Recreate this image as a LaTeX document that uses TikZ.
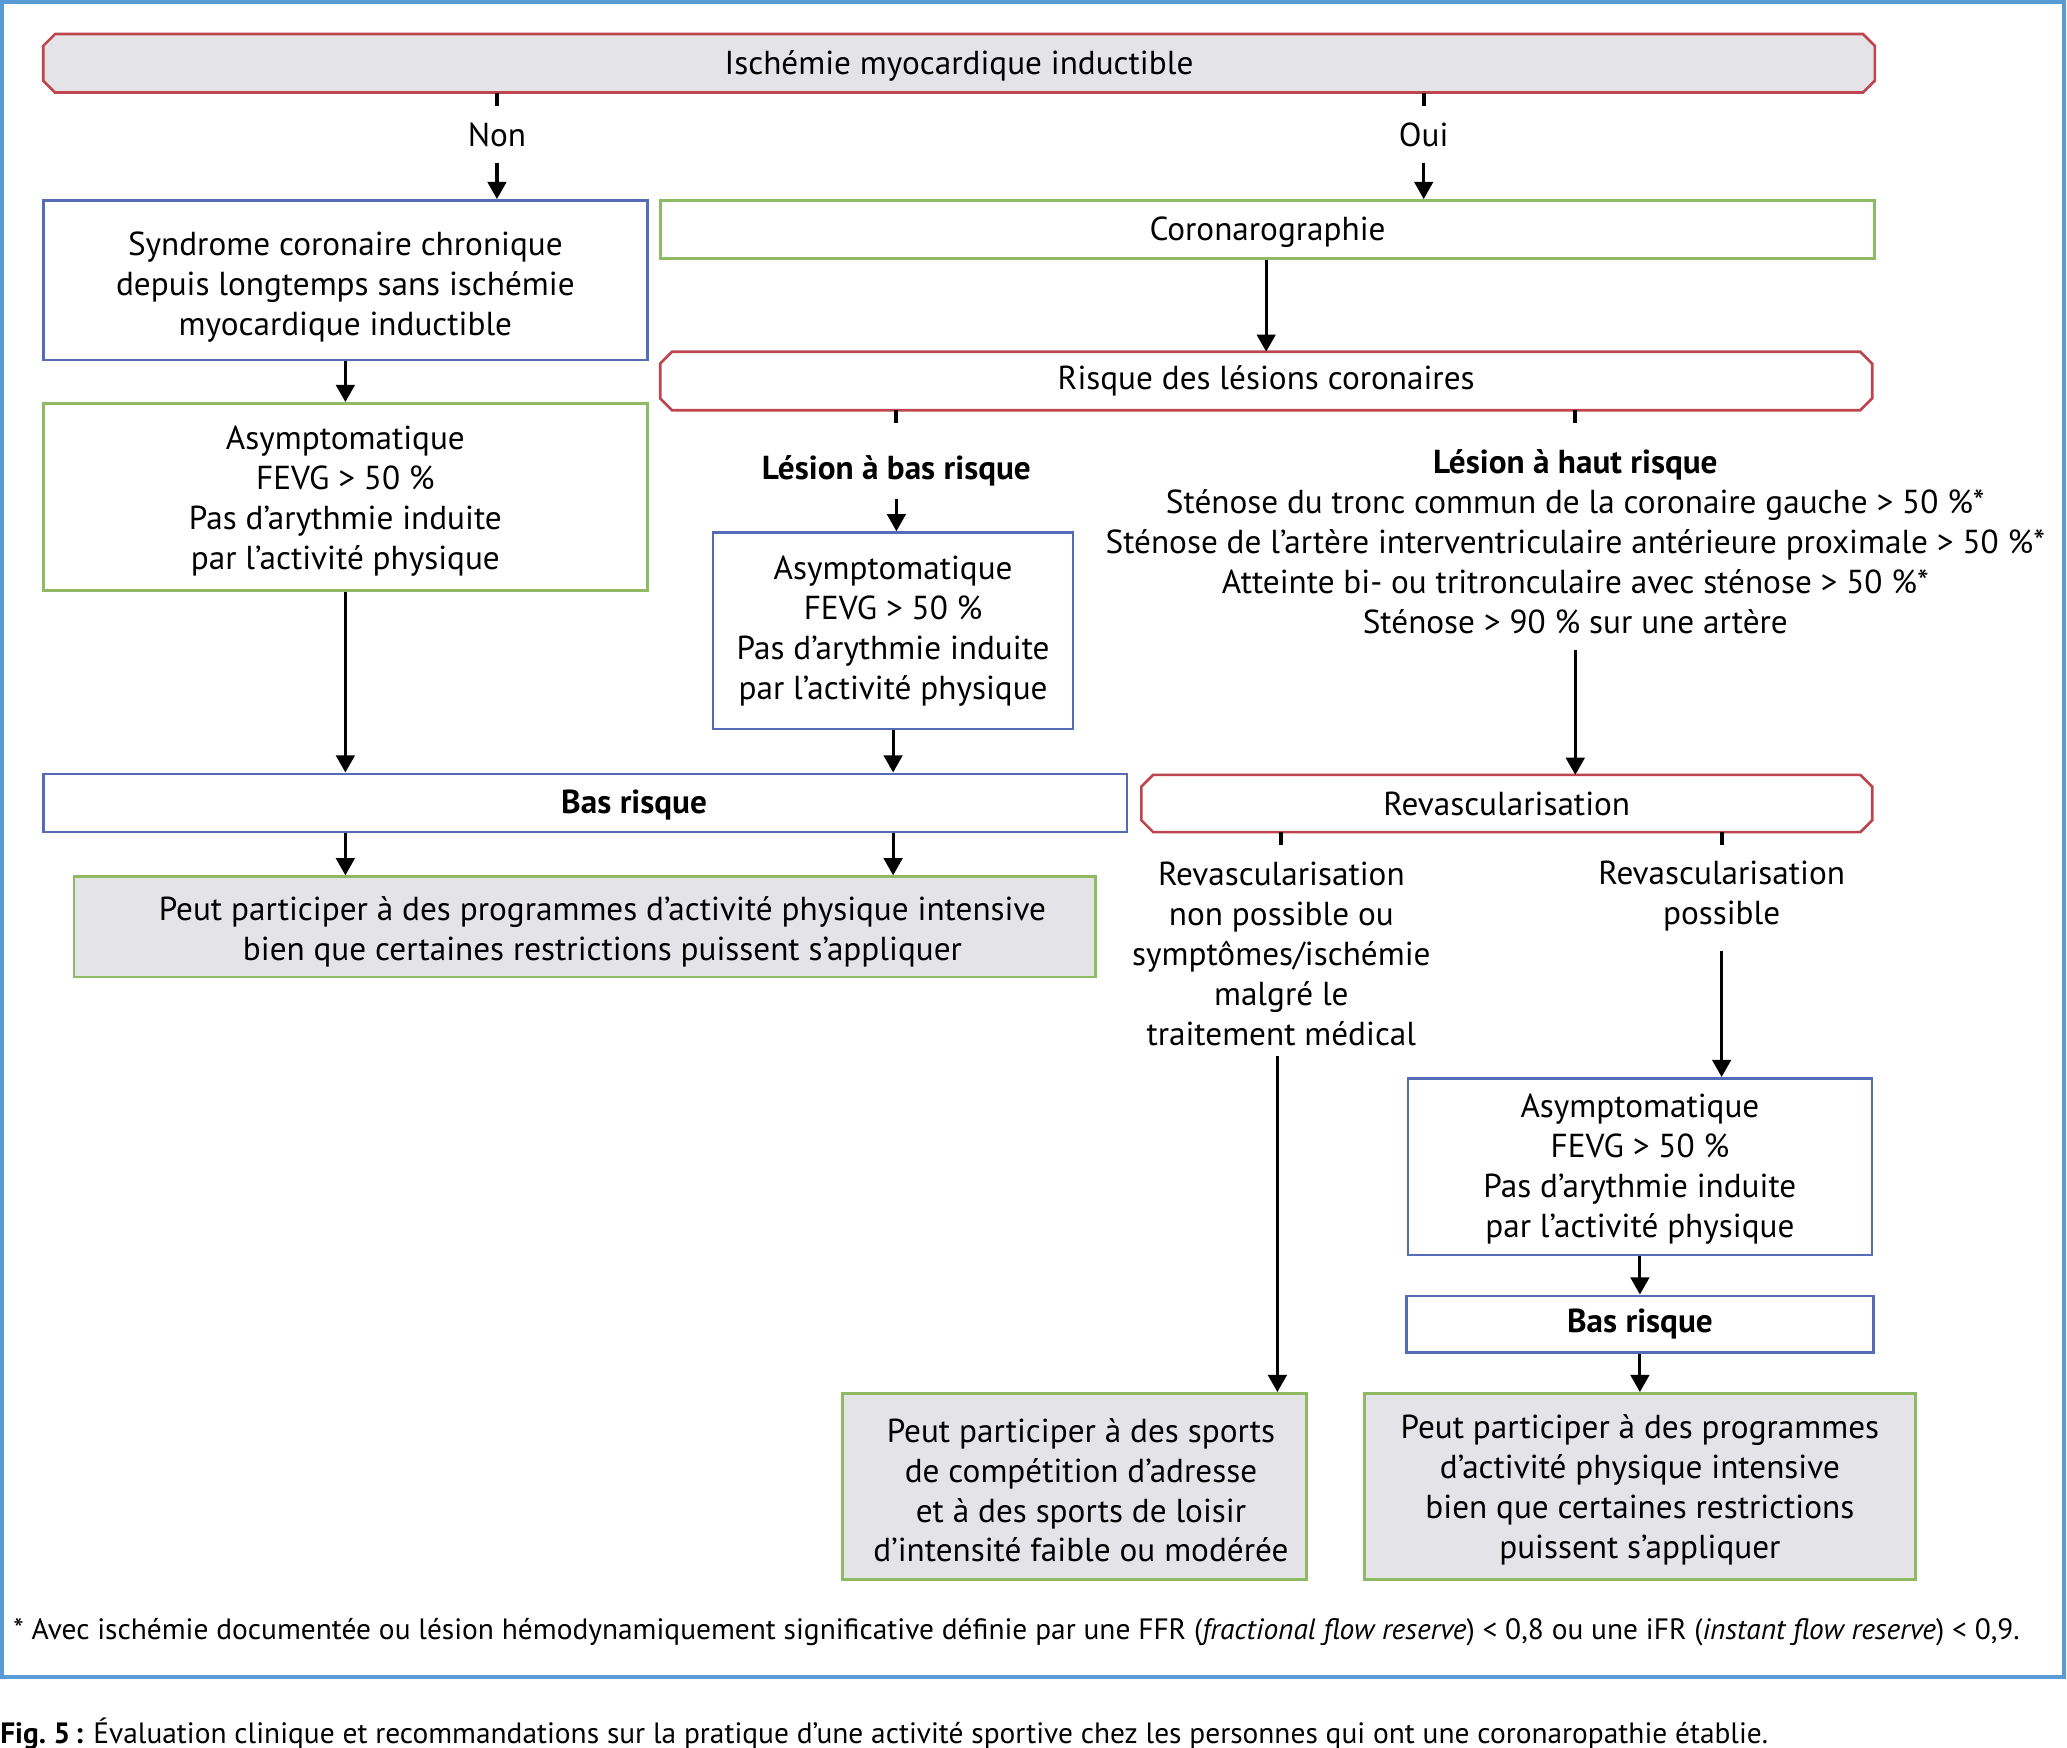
\documentclass[tikz,border=0pt]{standalone}
\usepackage{fontspec}
\setmainfont{PT Sans}
\usetikzlibrary{arrows.meta,backgrounds}
\definecolor{frameblue}{RGB}{91,155,213}
\definecolor{boxred}{RGB}{190,68,78}
\definecolor{boxblue}{RGB}{84,108,182}
\definecolor{boxgreen}{RGB}{141,186,98}
\definecolor{boxgray}{RGB}{228,228,232}
\newcommand\chamferbox[2]{%
  \begin{pgfonlayer}{background}
  \draw[draw=boxred,line width=2pt,fill=#2]
    ([xshift=9pt]#1.north west) -- ([xshift=-9pt]#1.north east) -- ([yshift=-9pt]#1.north east)
    -- ([yshift=9pt]#1.south east) -- ([xshift=-9pt]#1.south east) -- ([xshift=9pt]#1.south west)
    -- ([yshift=9pt]#1.south west) -- ([yshift=-9pt]#1.north west) -- cycle;
  \end{pgfonlayer}}
\newcommand\mainfs{\fontsize{25.2}{30.3}\selectfont}
\newcommand\lowr[1]{\rule{0pt}{#1}}
\begin{document}
\begin{tikzpicture}[x=1pt,y=-1pt,
  every node/.style={font=\mainfs, inner sep=0pt, align=center},
  bluebox/.style={draw=boxblue, line width=2pt},
  greenbox/.style={draw=boxgreen, line width=2pt},
  graybox/.style={draw=boxgreen, line width=2pt, fill=boxgray},
  arr/.style={line width=2.4pt, -{Triangle[length=13pt,width=14pt]}},
  tick/.style={line width=3pt},
  boldtext/.style={font=\mainfs\bfseries},
  smalltext/.style={font=\fontsize{22.3}{26}\selectfont}]
\useasboundingbox (0,0) rectangle (1568,1326);
% outer frame
\draw[frameblue, line width=3pt] (1.5,1.5) rectangle (1566,1272);

% top
\node[minimum width=1389pt, minimum height=44pt] (top) at (727.5,48) {\lowr{22pt}Ischémie myocardique inductible};
\chamferbox{top}{boxgray}
\node (non) at (377,102) {Non};
\node (oui) at (1080,102) {Oui};

% left column
\node[bluebox, minimum width=458pt, minimum height=121pt] (syn) at (262,212.5)
  {\lowr{29pt}Syndrome coronaire chronique\\depuis longtemps sans ischémie\\myocardique inductible};
\node[greenbox, minimum width=458pt, minimum height=142pt] (asy1) at (262,377)
  {\lowr{24pt}Asymptomatique\\FEVG > 50~\%\\Pas d’arythmie induite\\par l’activité physique};
\node[bluebox, minimum width=822pt, minimum height=44pt] (bas1) at (444,609) {};
\node[boldtext] (bas1t) at (481,611) {Bas risque};
\node[graybox, minimum width=775pt, minimum height=76pt] (gray1) at (443.5,703) {};
\node (gray1t) at (457,707) {Peut participer à des programmes d’activité physique intensive\\bien que certaines restrictions puissent s’appliquer};

% middle
\node[greenbox, minimum width=921pt, minimum height=44pt] (coro) at (961.5,174) {\lowr{22pt}Coronarographie};
\node[minimum width=919pt, minimum height=44pt] (risq) at (960.5,289) {Risque des lésions coronaires};
\chamferbox{risq}{white}
\node[boldtext] (lbas) at (680,357) {Lésion à bas risque};
\node[bluebox, minimum width=273pt, minimum height=149pt] (asy2) at (677.5,478.5)
  {Asymptomatique\\FEVG > 50~\%\\Pas d’arythmie induite\\par l’activité physique};
\node (lhaut) at (1195,411)
  {\textbf{Lésion à haut risque}\\Sténose du tronc commun de la coronaire gauche > 50~\%*\\Sténose de l’artère interventriculaire antérieure proximale > 50~\%*\\Atteinte bi- ou tritronculaire avec sténose > 50~\%*\\Sténose > 90~\% sur une artère};

% right
\node[minimum width=554pt, minimum height=43pt] (revasc) at (1143,609.5) {Revascularisation};
\chamferbox{revasc}{white}
\node (rnp) at (972,723.5) {Revascularisation\\non possible ou\\symptômes/ischémie\\malgré le\\traitement médical};
\node (rp) at (1306,679.5) {Revascularisation\\possible};
\node[bluebox, minimum width=352pt, minimum height=134pt] (asy3) at (1244,885)
  {\lowr{21pt}Asymptomatique\\FEVG > 50~\%\\Pas d’arythmie induite\\par l’activité physique};
\node[bluebox, boldtext, minimum width=354pt, minimum height=43pt] (bas2) at (1244,1004.5) {Bas risque};
\node[graybox, minimum width=352pt, minimum height=141pt] (gray2) at (815,1127.5) {};
\node (gray2t) at (820,1130.5)
  {Peut participer à des sports\\de compétition d’adresse\\et à des sports de loisir\\d’intensité faible ou modérée};
\node[graybox, minimum width=418pt, minimum height=141pt] (gray3) at (1244,1127.5)
  {\lowr{24pt}Peut participer à des programmes\\d’activité physique intensive\\bien que certaines restrictions\\puissent s’appliquer};

% footnote and caption
\node[smalltext, anchor=west] (foot) at (10,1238)
  {* Avec ischémie documentée ou lésion hémodynamiquement significative définie par une FFR (\textit{fractional flow reserve}) < 0,8 ou une iFR (\textit{instant flow reserve}) < 0,9.};
\node[smalltext, anchor=west] (cap) at (0,1315)
  {\textbf{Fig.~5\,:} Évaluation clinique et recommandations sur la pratique d’une activité sportive chez les personnes qui ont une coronaropathie établie.};

% connectors
\draw[tick] (non |- top.south) -- ++(0,10);
\draw[tick] (oui |- top.south) -- ++(0,10);
\draw[arr] (non.south) ++(0,12) -- (non |- syn.north);
\draw[arr] (oui.south) ++(0,12) -- (oui |- coro.north);
\draw[arr] (syn) -- (asy1);
\draw[arr] (asy1.south) -- (asy1.south |- bas1.north);
\draw[arr] (risq.north |- coro.south) -- (risq.north);
\draw[tick] (lbas |- risq.south) -- ++(0,10);
\draw[arr] (lbas.south) ++(0,10) -- (lbas |- asy2.north);
\draw[arr] (asy2.south) -- (asy2.south |- bas1.north);
\draw[arr] (syn |- bas1.south) -- (syn |- gray1.north);
\draw[arr] (asy2 |- bas1.south) -- (asy2 |- gray1.north);
\draw[tick] (lhaut |- risq.south) -- ++(0,10);
\draw[arr] (lhaut.south) ++(0,12) -- (lhaut |- revasc.north);
\draw[tick] (rnp |- revasc.south) -- ++(0,10);
\draw[tick] (rp |- revasc.south) -- ++(0,10);
\draw[arr] ([xshift=-3pt]rnp.south) ++(0,8) -- ([xshift=-3pt]rnp |- gray2.north);
\draw[arr] (rp.south) ++(0,15) -- (rp |- asy3.north);
\draw[arr] (asy3) -- (bas2);
\draw[arr] (bas2) -- (gray3);
\end{tikzpicture}
\end{document}
